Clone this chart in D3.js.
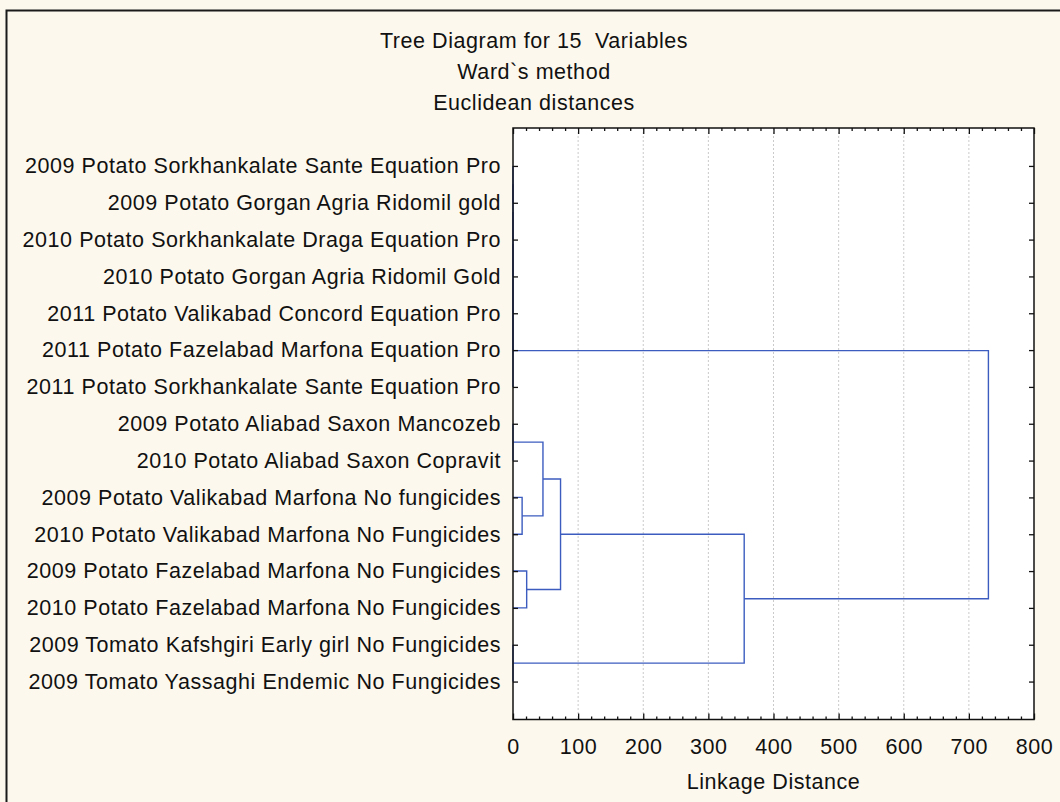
<!DOCTYPE html>
<html>
<head>
<meta charset="utf-8">
<script src="https://cdn.jsdelivr.net/npm/d3@7"></script>
<style>
  body { margin: 0; background: #fcf8ed; }
  svg { display: block; }
  text { font-family: "Liberation Sans", Arial, sans-serif; fill: #111; }
  .title { white-space: pre; }
</style>
</head>
<body>
<div id="chart"></div>
<script>
// leaf labels, top to bottom
var leaves = [
  "2009 Potato Sorkhankalate Sante Equation Pro",
  "2009 Potato Gorgan Agria Ridomil gold",
  "2010 Potato Sorkhankalate Draga Equation Pro",
  "2010 Potato Gorgan Agria Ridomil Gold",
  "2011 Potato Valikabad Concord Equation Pro",
  "2011 Potato Fazelabad Marfona Equation Pro",
  "2011 Potato Sorkhankalate Sante Equation Pro",
  "2009 Potato Aliabad Saxon Mancozeb",
  "2010 Potato Aliabad Saxon Copravit",
  "2009 Potato Valikabad Marfona No fungicides",
  "2010 Potato Valikabad Marfona No Fungicides",
  "2009 Potato Fazelabad Marfona No Fungicides",
  "2010 Potato Fazelabad Marfona No Fungicides",
  "2009 Tomato Kafshgiri Early girl No Fungicides",
  "2009 Tomato Yassaghi Endemic No Fungicides"
];

// joins: [node a, node b, linkage distance]; new node ids start at 15
var joinA = [0, 15, 3, 17, 5, 6, 7, 9, 21, 11, 23, 13, 25, 20];
var joinB = [1, 2, 16, 4, 18, 19, 8, 10, 22, 12, 24, 14, 26, 27];
var joinDist = [0, 0, 0, 0, 0, 0, 0, 14, 46, 21, 73, 0, 355, 730];

var xTicks = [0, 100, 200, 300, 400, 500, 600, 700, 800];
var titleLines = ["Tree Diagram for 15  Variables", "Ward`s method", "Euclidean distances"];
var xTitle = "Linkage Distance";

var width = 1060, height = 802;
var plot = {left: 513, right: 1034, top: 128, bottom: 719.5};
var lineColor = "#3c5cbf";

var svg = d3.select("#chart").append("svg")
  .attr("width", width)
  .attr("height", height);

// outer border (left and top only visible)
svg.append("path")
  .attr("d", "M" + width + ",10.5H6.5V" + height)
  .attr("fill", "none")
  .attr("stroke", "#1a1a1a")
  .attr("stroke-width", 2);

var x = d3.scaleLinear().domain([0, 800]).range([plot.left, plot.right]);
var y = d3.scaleLinear().domain([-1.03, leaves.length - 1 + 1.03]).range([plot.top, plot.bottom]);

// plot background
svg.append("rect")
  .attr("x", plot.left).attr("y", plot.top)
  .attr("width", plot.right - plot.left).attr("height", plot.bottom - plot.top)
  .attr("fill", "#fff");

// grid
svg.append("g").selectAll("line")
  .data(xTicks.slice(1, -1))
  .enter().append("line")
  .attr("x1", function(d) { return x(d); })
  .attr("x2", function(d) { return x(d); })
  .attr("y1", plot.top).attr("y2", plot.bottom)
  .attr("stroke", "#bdbdbd")
  .attr("stroke-width", 0.8)
  .attr("stroke-dasharray", "2,2");

// work out node positions and heights
var pos = d3.range(leaves.length), hgt = leaves.map(function() { return 0; });
var links = [];
joinA.forEach(function(a, i) {
  var b = joinB[i], h = joinDist[i];
  links.push({ya: pos[a], yb: pos[b], ha: hgt[a], hb: hgt[b], h: h});
  pos.push((pos[a] + pos[b]) / 2);
  hgt.push(h);
});

svg.append("g").selectAll("path")
  .data(links)
  .enter().append("path")
  .attr("d", function(d) {
    return "M" + x(d.ha) + "," + y(d.ya) + "H" + x(d.h) + "V" + y(d.yb) + "H" + x(d.hb);
  })
  .attr("fill", "none")
  .attr("stroke", lineColor)
  .attr("stroke-width", 1.4);

// axes, ticks point inward
var fontSize = "21.5px", spacing = "0.55px";

function styleAxis(g) {
  g.select(".domain").remove();
  g.selectAll(".tick line").attr("stroke", "#111").attr("stroke-width", 1.3);
  g.selectAll("text")
    .attr("font-size", fontSize)
    .attr("letter-spacing", spacing)
    .attr("fill", "#111")
    .style("font-family", '"Liberation Sans", Arial, sans-serif');
}

var minorTicks = d3.range(0, 801, 20).filter(function(d) { return d % 100 !== 0; });

svg.append("g")
  .attr("transform", "translate(0," + plot.bottom + ")")
  .call(d3.axisBottom(x).tickValues(xTicks).tickSize(-6).tickPadding(19))
  .call(styleAxis);
svg.append("g")
  .attr("transform", "translate(0," + plot.bottom + ")")
  .call(d3.axisBottom(x).tickValues(minorTicks).tickSize(-3).tickFormat(""))
  .call(styleAxis);
svg.append("g")
  .attr("transform", "translate(0," + plot.top + ")")
  .call(d3.axisTop(x).tickValues(xTicks).tickSize(-6).tickFormat(""))
  .call(styleAxis);
svg.append("g")
  .attr("transform", "translate(0," + plot.top + ")")
  .call(d3.axisTop(x).tickValues(minorTicks).tickSize(-3).tickFormat(""))
  .call(styleAxis);

svg.append("g")
  .attr("transform", "translate(" + plot.left + ",0)")
  .call(d3.axisLeft(y).tickValues(d3.range(leaves.length)).tickSize(-5).tickPadding(12)
    .tickFormat(function(i) { return leaves[i]; }))
  .call(styleAxis);
svg.append("g")
  .attr("transform", "translate(" + plot.right + ",0)")
  .call(d3.axisRight(y).tickValues(d3.range(leaves.length)).tickSize(-5).tickFormat(""))
  .call(styleAxis);

// frame on top
svg.append("rect")
  .attr("x", plot.left).attr("y", plot.top)
  .attr("width", plot.right - plot.left).attr("height", plot.bottom - plot.top)
  .attr("fill", "none")
  .attr("stroke", "#111")
  .attr("stroke-width", 1.5);

// titles
svg.append("g").selectAll("text")
  .data(titleLines)
  .enter().append("text")
  .attr("class", "title")
  .attr("x", 534)
  .attr("y", function(d, i) { return 47.5 + i * 31; })
  .attr("text-anchor", "middle")
  .attr("font-size", fontSize)
  .attr("letter-spacing", spacing)
  .text(function(d) { return d; });

svg.append("text")
  .attr("x", (plot.left + plot.right) / 2)
  .attr("y", 789)
  .attr("text-anchor", "middle")
  .attr("font-size", fontSize)
  .attr("letter-spacing", spacing)
  .text(xTitle);
</script>
</body>
</html>
